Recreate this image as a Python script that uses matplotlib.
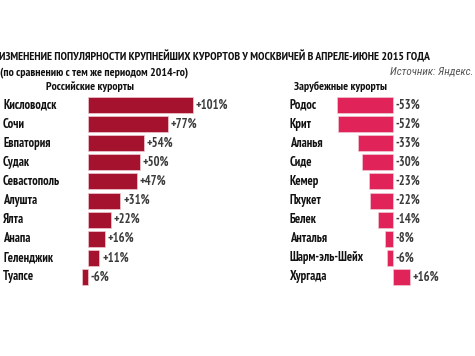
import matplotlib
matplotlib.use("Agg")
import matplotlib.pyplot as plt
from matplotlib.transforms import blended_transform_factory

plt.rcParams['font.family'] = ['PT Sans Narrow', 'Roboto Condensed', 'Fira Sans Condensed',
                               'Open Sans Condensed', 'DejaVu Sans']

# data
ru_names = ['Кисловодск', 'Сочи', 'Евпатория', 'Судак', 'Севастополь',
            'Алушта', 'Ялта', 'Анапа', 'Геленджик', 'Туапсе']
ru_vals = [101, 77, 54, 50, 47, 31, 22, 16, 11, -6]
fr_names = ['Родос', 'Крит', 'Аланья', 'Сиде', 'Кемер',
            'Пхукет', 'Белек', 'Анталья', 'Шарм-эль-Шейх', 'Хургада']
fr_vals = [-53, -52, -33, -30, -23, -22, -14, -8, -6, 16]

W, H = 475, 356
fig = plt.figure(figsize=(W / 100, H / 100), dpi=100)

def fx(px):
    return px / W

def fy(px):
    return 1 - px / H

# rows: centres at 105 .. 277 px
y_top, y_bot = 95.5, 286.5


def panel(x0, x1, zero_px, scale, names, vals, color, label_x):
    ax = fig.add_axes([fx(x0), fy(y_bot), fx(x1 - x0), (y_bot - y_top) / H])
    ax.set_xlim((x0 - zero_px) / scale, (x1 - zero_px) / scale)
    ax.set_ylim(len(vals) - 0.5, -0.5)
    ax.axis('off')
    pos = range(len(vals))
    ax.barh(pos, vals, height=0.84, color=color, edgecolor='#f0c8d0', linewidth=0.5)
    for i, v in enumerate(vals):
        txt = f'+{v}%' if v > 0 else f'{v}%'
        ax.annotate(txt, (max(v, 0), i), xytext=(2, 0), textcoords='offset points',
                    va='center', ha='left', fontsize=9, fontweight='bold', color='#3a3a3a')
    tr = blended_transform_factory(fig.transFigure, ax.transData)
    for i, n in enumerate(names):
        ax.text(fx(label_x), i, n, transform=tr, va='center', ha='left',
                fontsize=9, fontweight='bold', color='#111111')
    return ax


panel(78, 240, 88, 1.04, ru_names, ru_vals, '#a5122e', 3)
panel(330, 470, 393, 1.05, fr_names, fr_vals, '#e0245a', 290)

fig.text(fx(-1), fy(56), 'ИЗМЕНЕНИЕ ПОПУЛЯРНОСТИ КРУПНЕЙШИХ КУРОРТОВ У МОСКВИЧЕЙ В АПРЕЛЕ-ИЮНЕ 2015 ГОДА',
         ha='left', va='center', fontsize=8.5, fontweight='bold', color='#111111')
fig.text(fx(0), fy(73), '(по сравнению с тем же периодом 2014-го)',
         ha='left', va='center', fontsize=8.5, fontweight='bold', color='#111111')
fig.text(fx(473), fy(72), 'Источник: Яндекс.', ha='right', va='center',
         family=['Roboto Condensed', 'PT Sans', 'DejaVu Sans'],
         fontsize=8, style='italic', color='#555555')
fig.text(fx(90), fy(87), 'Российские курорты', ha='center', va='center',
         fontsize=8.5, fontweight='bold', color='#111111')
fig.text(fx(340), fy(87), 'Зарубежные курорты', ha='center', va='center',
         fontsize=8.5, fontweight='bold', color='#111111')

fig.savefig('out.png', dpi=100, facecolor='white')
